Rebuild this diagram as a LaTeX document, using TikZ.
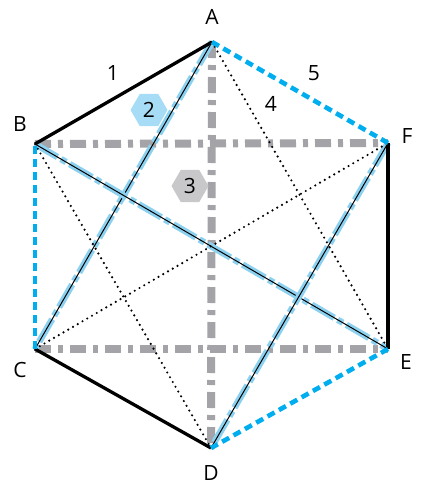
\documentclass[tikz,border=0pt]{standalone}
\usepackage{fontspec}
\setmainfont{Open Sans}
\usetikzlibrary{shapes.geometric}
\definecolor{edgecyan}{RGB}{0,174,239}
\definecolor{diaglight}{RGB}{140,210,240}
\definecolor{diaggray}{RGB}{163,163,168}
\definecolor{hexblue}{RGB}{166,220,245}
\definecolor{hexgray}{RGB}{200,200,202}
\begin{document}
\begin{tikzpicture}[x=1pt,y=-1pt,font=\fontsize{21}{25}\selectfont,
  solidedge/.style={line width=3.3pt,black},
  dashedge/.style={line width=4.6pt,edgecyan,dash pattern=on 8pt off 5pt},
  graydiag/.style={line width=8pt,diaggray,dash pattern=on 16pt off 7pt on 5pt off 7pt},
  bluediag/.style={line width=6.5pt,diaglight,dash pattern=on 26pt off 4pt on 6pt off 4pt},
  thindiag/.style={line width=1pt,black},
  dotdiag/.style={line width=2.4pt,black,line cap=round,dash pattern=on 0pt off 5.5pt},
  hexmark/.style={regular polygon,regular polygon sides=6,minimum size=37pt,inner sep=0pt}]
\useasboundingbox (0,0) rectangle (422,485);
% corners of the hexagon
\coordinate (A) at (212,42);
\coordinate (B) at (35,144);
\coordinate (C) at (35,349);
\coordinate (D) at (211,448);
\coordinate (E) at (388,349);
\coordinate (F) at (388,143);
% gray diagonals
\draw[graydiag] (A) -- (D);
\draw[graydiag] (B) -- (F);
\draw[graydiag] (C) -- (E);
% blue diagonals with thin line
\foreach \p/\q in {A/C,B/E,F/D}{
    \draw[bluediag] (\p) -- (\q);
    \draw[thindiag] (\p) -- (\q);
}
% dotted diagonals
\foreach \p/\q in {A/E,B/D,C/F}
    \draw[dotdiag] (\p) -- (\q);
% sides
\draw[solidedge] (A) -- (B);
\draw[solidedge] (F) -- (E);
\draw[solidedge] (D) -- (C);
\draw[dashedge] (A) -- (F);
\draw[dashedge] (E) -- (D);
\draw[dashedge] (C) -- (B);
% letters
\node (lA) at (212,17) {A};
\node (lB) at (20,124) {B};
\node (lC) at (20,370) {C};
\node (lD) at (211,473) {D};
\node (lE) at (406,362) {E};
\node (lF) at (407,136) {F};
% numbers
\node (n1) at (113,73) {1};
\node (n5) at (314,73) {5};
\node (n4) at (271,104) {4};
\node[hexmark,fill=hexblue] (n2) at (149,110) {2};
\node[hexmark,fill=hexgray] (n3) at (190,186) {3};
\end{tikzpicture}
\end{document}
